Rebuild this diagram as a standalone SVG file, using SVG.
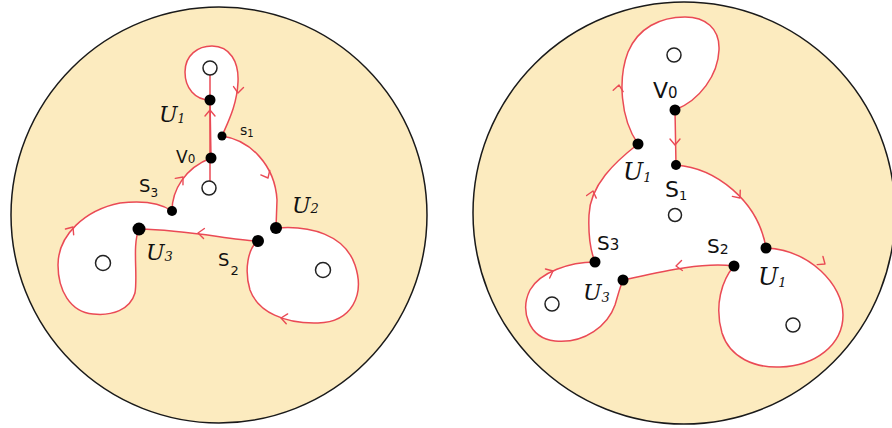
<svg xmlns="http://www.w3.org/2000/svg" xmlns:xlink="http://www.w3.org/1999/xlink" width="892" height="428" viewBox="0 0 892 428">
<style>
.disc{fill:#fcebbf;stroke:#1a1a1a;stroke-width:1.5}
.region{fill:#ffffff;stroke:#ea4a55;stroke-width:1.5;stroke-linejoin:round}
.red{fill:none;stroke:#ea4a55;stroke-width:1.5;stroke-linecap:round}
.hole{fill:#ffffff;stroke:#222;stroke-width:1.5}
.dot{fill:#000}
.lbl{font-family:"DejaVu Sans","Liberation Sans",sans-serif;fill:#111}
.scr{font-family:"DejaVu Serif","Liberation Serif",serif;font-style:italic;fill:#111}
</style>
<defs>
<path id="chev" d="M-6,-5 L0,0 L-6,5" fill="none" stroke="#ea4a55" stroke-width="1.4" stroke-linecap="round" stroke-linejoin="round"/>
</defs>
<rect width="892" height="428" fill="#ffffff"/>

<!-- LEFT DISC -->
<g id="left">
<circle class="disc" cx="219" cy="215" r="208"/>
<path class="region" d="M211,158 L210,100 C195,100 185,88 185,72 C185,55 198,46 212,46 C230,46 239,62 238,82 C237,105 228,122 222,136 C250,140 275,165 277,200 L276,228 C310,225 345,235 355,265 C365,295 352,322 318,323 C285,324 258,312 250,290 C244,270 248,248 258,241 C230,240 190,230 139,229 C132,245 138,275 135,293 C130,310 112,316 93,314 C70,312 58,290 58,265 C58,235 85,210 120,203 C145,200 162,204 172,211 C172,190 185,168 211,158 Z"/>
<path class="red" d="M210,75 L210,181"/>
<g id="l-holes">
<circle class="hole" cx="210" cy="68" r="7"/>
<circle class="hole" cx="209" cy="188" r="7"/>
<circle class="hole" cx="103" cy="263" r="7.5"/>
<circle class="hole" cx="323" cy="270" r="7.5"/>
</g>
<g id="l-arrows">
<use xlink:href="#chev" transform="translate(238,93) rotate(95)"/>
<use xlink:href="#chev" transform="translate(210,110) rotate(-90)"/>
<use xlink:href="#chev" transform="translate(268,178) rotate(63)"/>
<use xlink:href="#chev" transform="translate(281,318) rotate(188)"/>
<use xlink:href="#chev" transform="translate(198,233) rotate(185)"/>
<use xlink:href="#chev" transform="translate(73,227) rotate(-55)"/>
<use xlink:href="#chev" transform="translate(183,177) rotate(-50)"/>
</g>
<g id="l-u1"><circle class="dot" cx="210" cy="100" r="5.5"/><text class="scr" x="159" y="122" font-size="22">U<tspan font-size="12" dy="1">1</tspan></text></g>
<g id="l-s1"><circle class="dot" cx="222" cy="136" r="4.5"/><text class="lbl" x="240" y="135" font-size="14">s<tspan font-size="10" dy="2">1</tspan></text></g>
<g id="l-v0"><circle class="dot" cx="211" cy="158" r="5.5"/><text class="lbl" x="176" y="163" font-size="17">V<tspan font-size="12">0</tspan></text></g>
<g id="l-s3"><circle class="dot" cx="172" cy="211" r="5"/><text class="lbl" x="139" y="192" font-size="18">S<tspan font-size="12" dy="5">3</tspan></text></g>
<g id="l-u2"><circle class="dot" cx="276" cy="228" r="6"/><text class="scr" x="292" y="213" font-size="22">U<tspan font-size="13">2</tspan></text></g>
<g id="l-s2"><circle class="dot" cx="258" cy="241" r="6"/><text class="lbl" x="218" y="266" font-size="18">S<tspan font-size="13" dy="9" dx="1">2</tspan></text></g>
<g id="l-u3"><circle class="dot" cx="139" cy="229" r="6.5"/><text class="scr" x="146" y="260" font-size="22">U<tspan font-size="13" dy="1">3</tspan></text></g>
</g>

<!-- RIGHT DISC -->
<g id="right">
<circle class="disc" cx="684" cy="213" r="211"/>
<path class="region" d="M675,110 C700,100 718,75 719,50 C720,28 705,17 685,17 C660,17 638,28 628,52 C618,78 620,118 638,144 C615,162 590,185 589,215 C588,238 591,252 595,262 C570,262 540,272 530,290 C520,310 528,338 555,341 C585,344 608,325 615,305 C618,295 620,287 623,280 C660,272 700,262 734,266 C722,280 714,305 722,333 C730,358 755,368 780,367 C815,366 843,345 843,315 C843,285 810,250 766,248 C758,200 715,168 676,165 Z"/>
<g id="r-holes">
<circle class="hole" cx="674" cy="55" r="7"/>
<circle class="hole" cx="675" cy="215" r="6.5"/>
<circle class="hole" cx="552" cy="304" r="7"/>
<circle class="hole" cx="793" cy="325" r="7"/>
</g>
<g id="r-arrows">
<use xlink:href="#chev" transform="translate(619,85) rotate(-82)"/>
<use xlink:href="#chev" transform="translate(675,145) rotate(90)"/>
<use xlink:href="#chev" transform="translate(740,198) rotate(52)"/>
<use xlink:href="#chev" transform="translate(825,264) rotate(35)"/>
<use xlink:href="#chev" transform="translate(676,266) rotate(175)"/>
<use xlink:href="#chev" transform="translate(553,271) rotate(-25)"/>
<use xlink:href="#chev" transform="translate(593,191) rotate(-75)"/>
</g>
<g id="r-v0"><circle class="dot" cx="675" cy="110" r="5.5"/><text class="lbl" x="653" y="98" font-size="22">V<tspan font-size="15">0</tspan></text></g>
<g id="r-u1a"><circle class="dot" cx="638" cy="144" r="5.5"/><text class="scr" x="623" y="180" font-size="24">U<tspan font-size="13" dy="2">1</tspan></text></g>
<g id="r-s1"><circle class="dot" cx="676" cy="165" r="5"/><text class="lbl" x="665" y="197" font-size="22">S<tspan font-size="13" dy="3">1</tspan></text></g>
<g id="r-s3"><circle class="dot" cx="595" cy="262" r="5.5"/><text class="lbl" x="597" y="250" font-size="20">S<tspan font-size="15">3</tspan></text></g>
<g id="r-s2"><circle class="dot" cx="734" cy="266" r="5.5"/><text class="lbl" x="707" y="253" font-size="20">S<tspan font-size="14" dy="1">2</tspan></text></g>
<g id="r-u1b"><circle class="dot" cx="766" cy="248" r="5.5"/><text class="scr" x="758" y="285" font-size="24">U<tspan font-size="13" dy="2">1</tspan></text></g>
<g id="r-u3"><circle class="dot" cx="623" cy="280" r="5.5"/><text class="scr" x="583" y="300" font-size="22">U<tspan font-size="13" dy="2">3</tspan></text></g>
</g>
</svg>
